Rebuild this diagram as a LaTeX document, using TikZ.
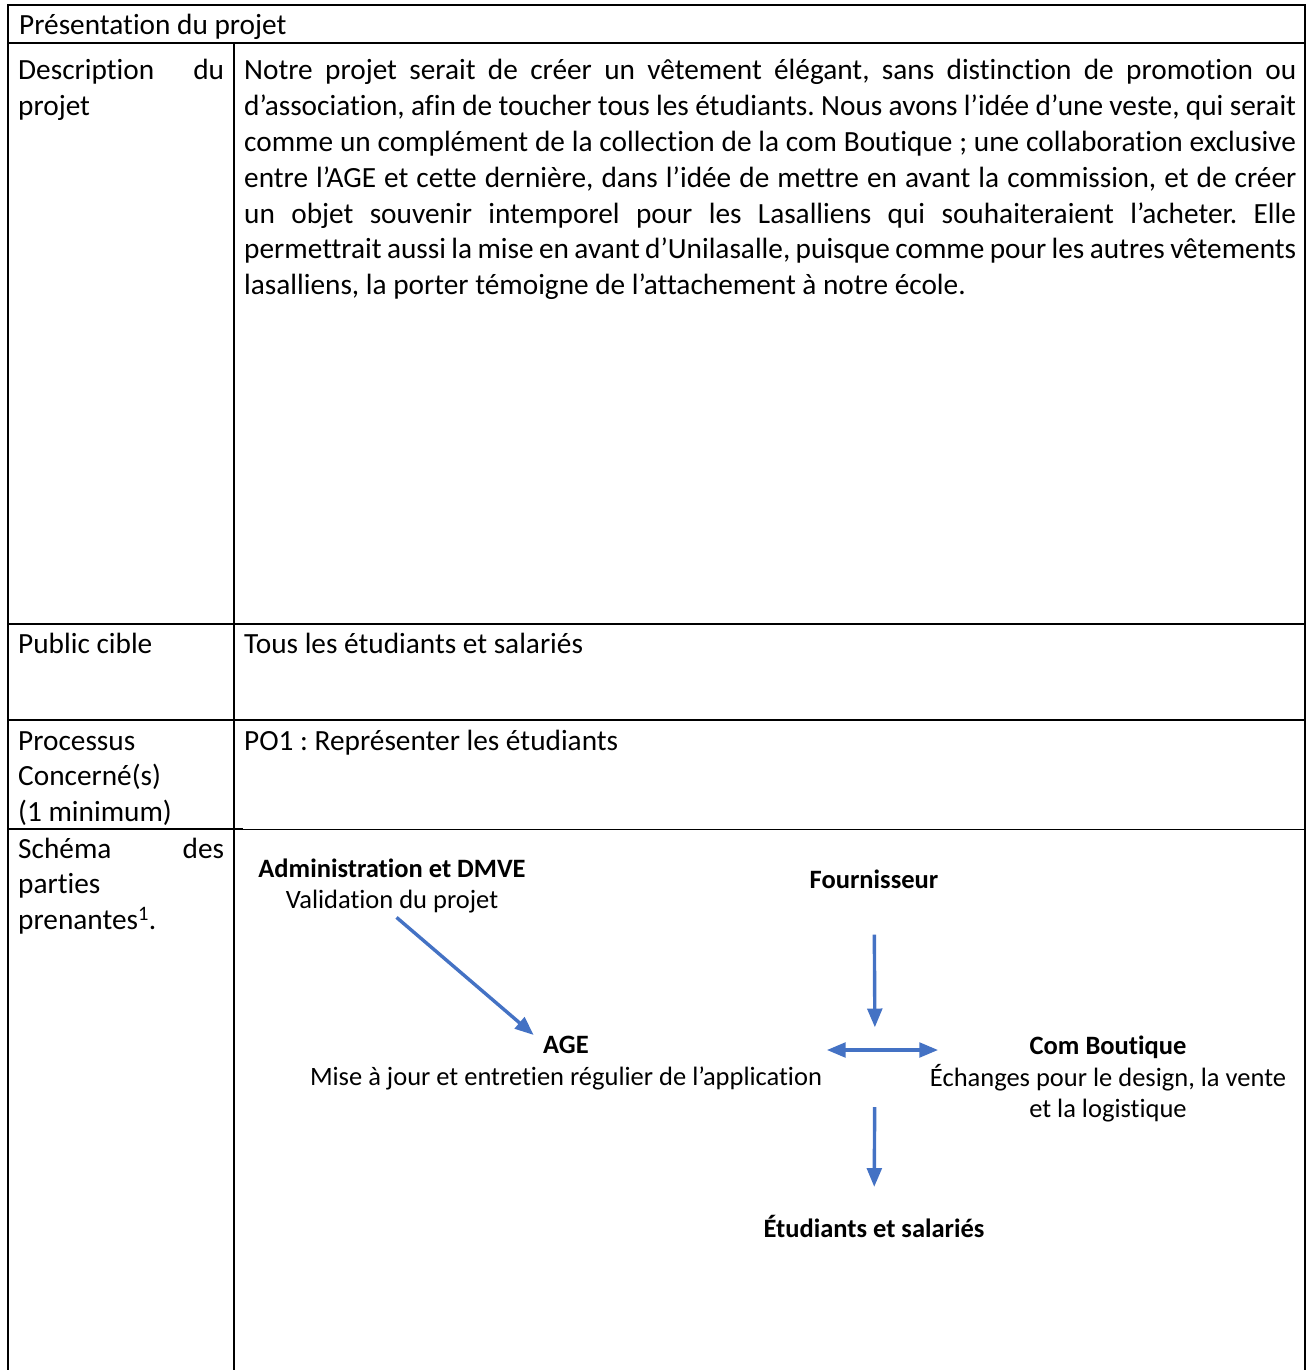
\documentclass[tikz,border=0pt]{standalone}
\usepackage{fontspec}
\setmainfont{Carlito}[Ligatures=NoCommon]
\usetikzlibrary{positioning,arrows}
\definecolor{bleu}{HTML}{4472C4}
\hyphenpenalty=10000
\exhyphenpenalty=10000
\tolerance=10000
\frenchspacing

\begin{document}
\begin{tikzpicture}
[x=1pt, y=-1pt, >=triangle 45,
 trait/.style={line width=1.4pt},
 cellule/.style={anchor=base west, inner sep=0pt, align=justify, font=\fontsize{29.3}{35.8}\selectfont},
 partie/.style={align=center, inner sep=0pt, font=\fontsize{26.5}{31.5}\selectfont},
 fleche/.style={->, draw=bleu, fill=bleu, line width=3.4pt}]
\useasboundingbox (0,0) rectangle (1306,1370);
% tableau
\draw[trait] (8,1370) -- (8,5) -- (1305,5) -- (1305,1370);
\draw[trait] (8,43) -- (1305,43);
\draw[trait] (234,43) -- (234,1370);
\draw[trait] (8,624) -- (1305,624);
\draw[trait] (8,720) -- (1305,720);
\draw[trait] (8,829) -- (243,829);
\draw[line width=1pt] (243,829) -- (1305,829);
% textes des cellules
\node[cellule, text width=1280pt] (titre) at (19,35) {Présentation du projet};
\node[cellule, text width=206pt] (desc) at (18,80) {Description\hfill du\\projet};
\node[cellule, text width=1052pt] (texte) at (244,80) {Notre projet serait de créer un vêtement élégant, sans distinction de promotion ou\linebreak
d’association, afin de toucher tous les étudiants. Nous avons l’idée d’une veste, qui serait\linebreak
comme un complément de la collection de la com Boutique ; une collaboration exclusive\linebreak
entre l’AGE et cette dernière, dans l’idée de mettre en avant la commission, et de créer\linebreak
un objet souvenir intemporel pour les Lasalliens qui souhaiteraient l’acheter. Elle\linebreak
permettrait aussi la mise en avant d’Unilasalle, puisque comme pour les autres vêtements\linebreak
lasalliens, la porter témoigne de l’attachement à notre école.};
\node[cellule, text width=206pt] (public) at (18,653) {Public cible};
\node[cellule, text width=1052pt] (tous) at (244,653) {Tous les étudiants et salariés};
\node[cellule, text width=206pt] (proc) at (18,750) {Processus\\Concerné(s)\\(1 minimum)};
\node[cellule, text width=1052pt] (po) at (244,750) {PO1 : Représenter les étudiants};
\node[cellule, text width=206pt] (schema) at (18,858) {Schéma\hfill des\\parties\\prenantes\textsuperscript{1}.};
% parties prenantes
\node[partie] (adm) at (392,886) {\textbf{Administration et DMVE}\\Validation du projet};
\node[partie] (age) at (566,1063) {\textbf{AGE}\\Mise à jour et entretien régulier de l’application};
\node[partie] (four) at (874,879) {\textbf{Fournisseur}};
\coordinate (hub) at (875,1050);
\node[partie] (com) at (1108,1079) {\textbf{Com Boutique}\\Échanges pour le design, la vente\\et la logistique};
\node[partie] (etu) at (874,1226) {\textbf{Étudiants et salariés}};
\draw[fleche, shorten <=6pt, shorten >=2pt] (adm.south) -- ([xshift=-31pt]age.north);
\draw[fleche, shorten <=46pt, shorten >=23pt] (four) -- (hub);
\draw[fleche, <->, shorten <=5pt, shorten >=-8pt] (age.east |- hub) -- (com.west |- hub);
\draw[fleche, shorten <=57pt, shorten >=28pt] (hub) -- (etu);
\end{tikzpicture}
\end{document}
